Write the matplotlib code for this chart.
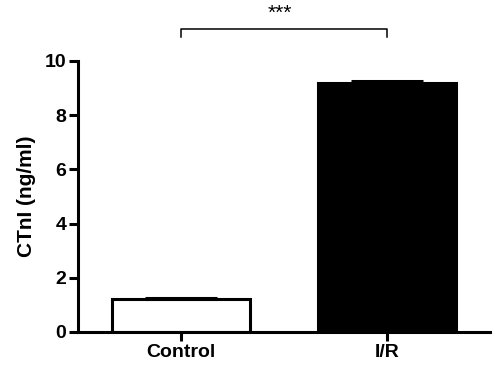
import matplotlib
matplotlib.use("Agg")
import matplotlib.pyplot as plt

categories = ["Control", "I/R"]
values = [1.2, 9.2]
errors = [0.07, 0.07]
yticks = [0, 2, 4, 6, 8, 10]
sig_label = "***"

plt.rcParams['font.family'] = ['Liberation Sans', 'DejaVu Sans']

fig = plt.figure(figsize=(5, 3.67), dpi=100)
ax = fig.add_axes([0.156, 0.0954, 0.824, 0.7386])

x = list(range(len(categories)))
ax.bar(x, values, width=0.67, color=["white", "black"], edgecolor="black",
       linewidth=2.2, zorder=2)
ax.errorbar(x, values, yerr=[[0, 0], errors], fmt="none", ecolor="black",
            elinewidth=2.2, capsize=26, capthick=2.2, zorder=3)

ax.set_xlim(-0.5, 1.5)
ax.set_ylim(0, 10)
ax.set_yticks(yticks)
ax.set_xticks(x)
ax.set_xticklabels(categories, fontsize=14, fontweight="bold")
ax.set_yticklabels([str(t) for t in yticks], fontsize=14, fontweight="bold")
ax.set_ylabel("CTnI (ng/ml)", fontsize=15, fontweight="bold", labelpad=6)

for s in ["top", "right"]:
    ax.spines[s].set_visible(False)
for s in ["left", "bottom"]:
    ax.spines[s].set_linewidth(2.2)
ax.tick_params(axis="both", width=2.2, length=6.5, pad=2)

# significance bracket
yb, yt = 10.88, 11.18
ax.plot([0, 0, 1, 1], [yb, yt, yt, yb], color="black", lw=1.1, clip_on=False)
ax.text(0.48, 11.4, sig_label, ha="center", va="bottom", fontsize=15, clip_on=False)

fig.savefig("out.png", dpi=100)
